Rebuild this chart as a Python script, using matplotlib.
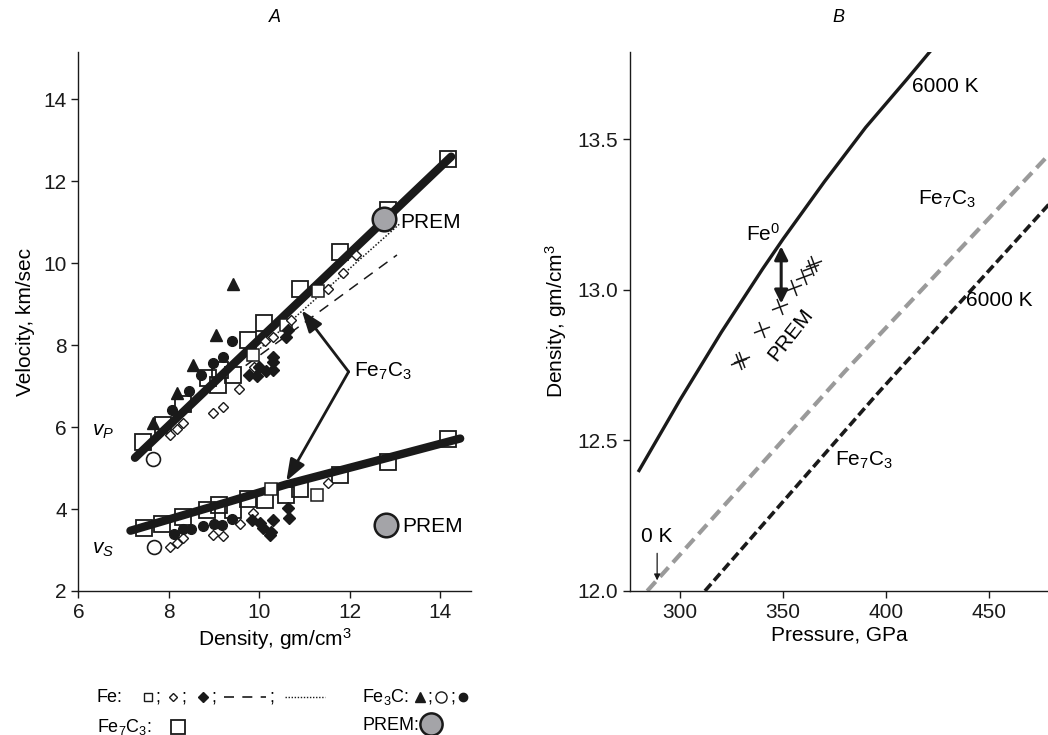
import matplotlib
matplotlib.use("Agg")
import matplotlib.pyplot as plt
from matplotlib.markers import MarkerStyle
from matplotlib.transforms import Affine2D

plt.rcParams['font.family'] = ['Liberation Sans', 'DejaVu Sans']
plt.rcParams['mathtext.fontset'] = 'custom'
plt.rcParams['mathtext.rm'] = 'Liberation Sans'
plt.rcParams['mathtext.it'] = 'Liberation Sans:italic'

# ---------------- panel A data (density g/cm3, velocity km/s) ----------------
# Fe7C3 fits (thick lines)
vpFitD = [7.25, 14.25]
vpFitV = [5.25, 12.6]
vsFitD = [7.15, 9.0, 10.6, 12.5, 14.45]
vsFitV = [3.47, 4.07, 4.6, 5.15, 5.72]

# Fe dashed / dotted lines
feDashD = [9.7, 13.05]
feDashV = [7.5, 10.2]
feDotD = [9.8, 13.1]
feDotV = [7.7, 10.95]

# Fe7C3 big squares
sqBigD = [7.42, 7.88, 8.32, 8.87, 9.09, 9.13, 9.42, 9.76, 10.1, 10.9, 11.8, 12.85, 14.17,
          7.45, 7.84, 8.31, 8.84, 9.11, 9.42, 9.76, 10.13, 10.6, 10.9, 11.79, 12.85, 14.17]
sqBigV = [5.64, 6.05, 6.56, 7.19, 7.02, 7.39, 7.27, 8.12, 8.53, 9.36, 10.28, 11.3, 12.55,
          3.54, 3.63, 3.81, 3.98, 4.1, 3.98, 4.24, 4.22, 4.34, 4.48, 4.83, 5.15, 5.72]
# Fe small squares
sqSmD = [9.87, 10.59, 11.3, 10.27, 11.27]
sqSmV = [7.76, 8.49, 9.33, 4.48, 4.34]
# Fe open diamonds
dOpenD = [8.02, 8.18, 8.31, 8.98, 9.2, 9.56, 9.88, 10.13, 10.3, 10.7, 11.53, 11.86, 12.15,
          8.02, 8.19, 8.32, 8.98, 9.2, 9.57, 9.87, 11.53]
dOpenV = [5.8, 5.95, 6.1, 6.34, 6.49, 6.94, 7.47, 8.1, 8.19, 8.61, 9.38, 9.75, 10.2,
          3.08, 3.18, 3.29, 3.37, 3.34, 3.63, 3.91, 4.63]
# Fe filled diamonds
dFillD = [9.78, 9.96, 10.15, 10.3, 10.0, 10.3, 10.3, 10.6, 10.64,
          9.83, 10.02, 10.09, 10.27, 10.3, 10.25, 10.64, 10.66]
dFillV = [7.27, 7.24, 7.37, 7.39, 7.47, 7.7, 7.58, 8.2, 8.37,
          3.73, 3.65, 3.53, 3.45, 3.73, 3.37, 4.02, 3.77]
# Fe3C triangles, open circles, filled circles
triD = [7.66, 8.17, 8.53, 9.04, 9.42]
triV = [6.1, 6.84, 7.51, 8.24, 9.5]
cOpenD = [7.66, 7.67]
cOpenV = [5.21, 3.07]
cFillD = [8.08, 8.45, 8.72, 8.98, 9.2, 9.39,
          8.11, 8.32, 8.48, 8.75, 9.0, 9.17, 9.39]
cFillV = [6.41, 6.89, 7.27, 7.57, 7.7, 8.1,
          3.39, 3.5, 3.5, 3.58, 3.63, 3.61, 3.76]
# PREM inner core
premD = [12.76, 12.8]
premV = [11.07, 3.6]

# ---------------- panel B data (pressure GPa, density g/cm3) ----------------
feP = [280, 300, 320, 340, 350, 370, 390, 410, 421]
feRho = [12.40, 12.636, 12.86, 13.07, 13.17, 13.36, 13.54, 13.70, 13.79]
fe7c3ColdP = [284, 380, 479]
fe7c3ColdRho = [12.0, 12.73, 13.45]
fe7c3HotP = [312, 395, 479]
fe7c3HotRho = [12.0, 12.65, 13.285]
premP = [328.6, 330.0, 339.8, 348.6, 355.1, 360.0, 363.4, 365.0]
premRho = [12.76, 12.767, 12.866, 12.945, 13.006, 13.043, 13.074, 13.085]

fs = 15
ink = '#1a1a1a'

fig = plt.figure(figsize=(10.48, 7.35), dpi=100)

# ================= panel A =================
axA = fig.add_axes([0.0749, 0.196, 0.375, 0.733])
axA.plot(vpFitD, vpFitV, color=ink, lw=6, solid_capstyle='round', zorder=3)
axA.plot(vsFitD, vsFitV, color=ink, lw=6, solid_capstyle='round', zorder=3)
axA.plot(feDashD, feDashV, color=ink, lw=1.1, dashes=(7, 5), zorder=2)
axA.plot(feDotD, feDotV, color=ink, lw=1.1, ls=(0, (1, 1.2)), zorder=2)

mk = dict(ls='none', zorder=4)
axA.plot(sqBigD, sqBigV, marker='s', ms=11.5, mfc='none', mec=ink, mew=1.3, **mk)
axA.plot(sqSmD, sqSmV, marker='s', ms=8, mfc='white', mec=ink, mew=1.1, **mk)
axA.plot(dOpenD, dOpenV, marker='D', ms=5.5, mfc='white', mec=ink, mew=1.0, **mk)
axA.plot(dFillD, dFillV, marker='D', ms=6, mfc=ink, mec=ink, **mk)
axA.plot(triD, triV, marker='^', ms=8, mfc=ink, mec=ink, **mk)
axA.plot(cOpenD, cOpenV, marker='o', ms=10, mfc='white', mec=ink, mew=1.2, **mk)
axA.plot(cFillD, cFillV, marker='o', ms=7, mfc=ink, mec=ink, **mk)
axA.plot(premD, premV, marker='o', ms=17, mfc='#a4a4a8', mec=ink, mew=1.8, ls='none', zorder=5)

axA.text(13.12, 11.0, 'PREM', fontsize=fs, va='center', ha='left')
axA.text(13.17, 3.58, 'PREM', fontsize=fs, va='center', ha='left')
axA.text(6.3, 5.9, r'$v_P$', fontsize=fs, va='center', ha='left')
axA.text(6.3, 3.0, r'$v_S$', fontsize=fs, va='center', ha='left')

# Fe7C3 label with two arrows
axA.text(12.1, 7.35, r'Fe$_7$C$_3$', fontsize=fs, va='center', ha='left')
for tip in [(10.94, 8.85), (10.6, 4.68)]:
    axA.annotate('', xy=tip, xytext=(11.98, 7.35),
                 arrowprops=dict(arrowstyle='-|>,head_length=0.6,head_width=0.22',
                                 color=ink, lw=2, mutation_scale=22,
                                 shrinkA=0, shrinkB=0))

axA.set_xlim(6, 14.7)
axA.set_ylim(2, 15.15)
axA.set_xticks([6, 8, 10, 12, 14])
axA.set_yticks([2, 4, 6, 8, 10, 12, 14])
axA.set_xlabel('Density, gm/cm$^3$', fontsize=fs, labelpad=3)
axA.set_ylabel('Velocity, km/sec', fontsize=fs, labelpad=6)
axA.set_title('A', fontsize=13, style='italic', pad=22)

# ================= panel B =================
axB = fig.add_axes([0.6009, 0.196, 0.3991, 0.733])
axB.plot(feP, feRho, color=ink, lw=2.4, zorder=3)
axB.plot(fe7c3ColdP, fe7c3ColdRho, color='#9a9a9a', lw=3, dashes=(3, 1.6), zorder=2)
axB.plot(fe7c3HotP, fe7c3HotRho, color=ink, lw=2.6, dashes=(2.6, 1.2), zorder=2)
cross = MarkerStyle('+', transform=Affine2D().rotate_deg(18))
axB.plot(premP, premRho, ls='none', marker=cross, ms=12, mew=1.1, color=ink, zorder=4)

axB.annotate('', xy=(349, 12.955), xytext=(349, 13.145),
             arrowprops=dict(arrowstyle='<|-|>', color=ink, lw=2.2,
                             mutation_scale=20, shrinkA=0, shrinkB=0))
axB.annotate('', xy=(288.8, 12.035), xytext=(288.8, 12.125),
             arrowprops=dict(arrowstyle='-|>', color=ink, lw=0.9,
                             mutation_scale=9, shrinkA=0, shrinkB=0))

axB.text(340, 13.185, r'Fe$^0$', fontsize=fs, ha='center', va='center')
axB.text(353.4, 12.85, 'PREM', fontsize=fs, ha='center', va='center', rotation=52)
axB.text(412.6, 13.675, '6000 K', fontsize=fs, ha='left', va='center')
axB.text(415.5, 13.30, r'Fe$_7$C$_3$', fontsize=fs, ha='left', va='center')
axB.text(438.8, 12.965, '6000 K', fontsize=fs, ha='left', va='center')
axB.text(375.2, 12.435, r'Fe$_7$C$_3$', fontsize=fs, ha='left', va='center')
axB.text(288.8, 12.18, '0 K', fontsize=fs, ha='center', va='center')

axB.set_xlim(275.5, 478.5)
axB.set_ylim(12.0, 13.79)
axB.set_xticks([300, 350, 400, 450])
axB.set_yticks([12.0, 12.5, 13.0, 13.5])
axB.set_yticklabels(['12.0', '12.5', '13.0', '13.5'])
axB.set_xlabel('Pressure, GPa', fontsize=fs, labelpad=3)
axB.set_ylabel('Density, gm/cm$^3$', fontsize=fs, labelpad=6)
axB.set_title('B', fontsize=13, style='italic', pad=22)

for ax in (axA, axB):
    for s in ('top', 'right'):
        ax.spines[s].set_visible(False)
    for s in ('left', 'bottom'):
        ax.spines[s].set_linewidth(1.0)
        ax.spines[s].set_color(ink)
    ax.tick_params(direction='out', length=5, width=1.0, labelsize=fs, colors=ink)

# ================= key below panel A (pixel coordinates) =================
key = fig.add_axes([0, 0, 1, 1], zorder=-1)
key.set_xlim(0, 1048)
key.set_ylim(735, 0)
key.axis('off')
kfs = 13
key.text(97, 697, 'Fe:', fontsize=kfs, va='center')
key.plot([148], [697], marker='s', ms=6, mfc='white', mec=ink, mew=1)
key.text(155, 697, ';', fontsize=kfs, va='center')
key.plot([173], [697], marker='D', ms=4.5, mfc='white', mec=ink, mew=1)
key.text(181, 697, ';', fontsize=kfs, va='center')
key.plot([203], [697], marker='D', ms=5, mfc=ink, mec=ink)
key.text(211, 697, ';', fontsize=kfs, va='center')
key.plot([224, 266], [697, 697], color=ink, lw=1.2, dashes=(6, 5))
key.text(269, 697, ';', fontsize=kfs, va='center')
key.plot([285, 325], [697, 697], color=ink, lw=1.0, ls=(0, (1, 1.2)))
key.text(362, 697, r'Fe$_3$C:', fontsize=kfs, va='center')
key.plot([420], [697], marker='^', ms=7, mfc=ink, mec=ink)
key.text(427, 697, ';', fontsize=kfs, va='center')
key.plot([441], [697], marker='o', ms=8, mfc='white', mec=ink, mew=1)
key.text(450, 697, ';', fontsize=kfs, va='center')
key.plot([463], [697], marker='o', ms=6, mfc=ink, mec=ink)
key.text(97, 727, r'Fe$_7$C$_3$:', fontsize=kfs, va='center')
key.plot([178], [727], marker='s', ms=10, mfc='none', mec=ink, mew=1.3)
key.text(362, 725, 'PREM:', fontsize=kfs, va='center')
key.plot([431], [724], marker='o', ms=16, mfc='#a4a4a8', mec=ink, mew=1.8)

fig.savefig('out.png', dpi=100)
